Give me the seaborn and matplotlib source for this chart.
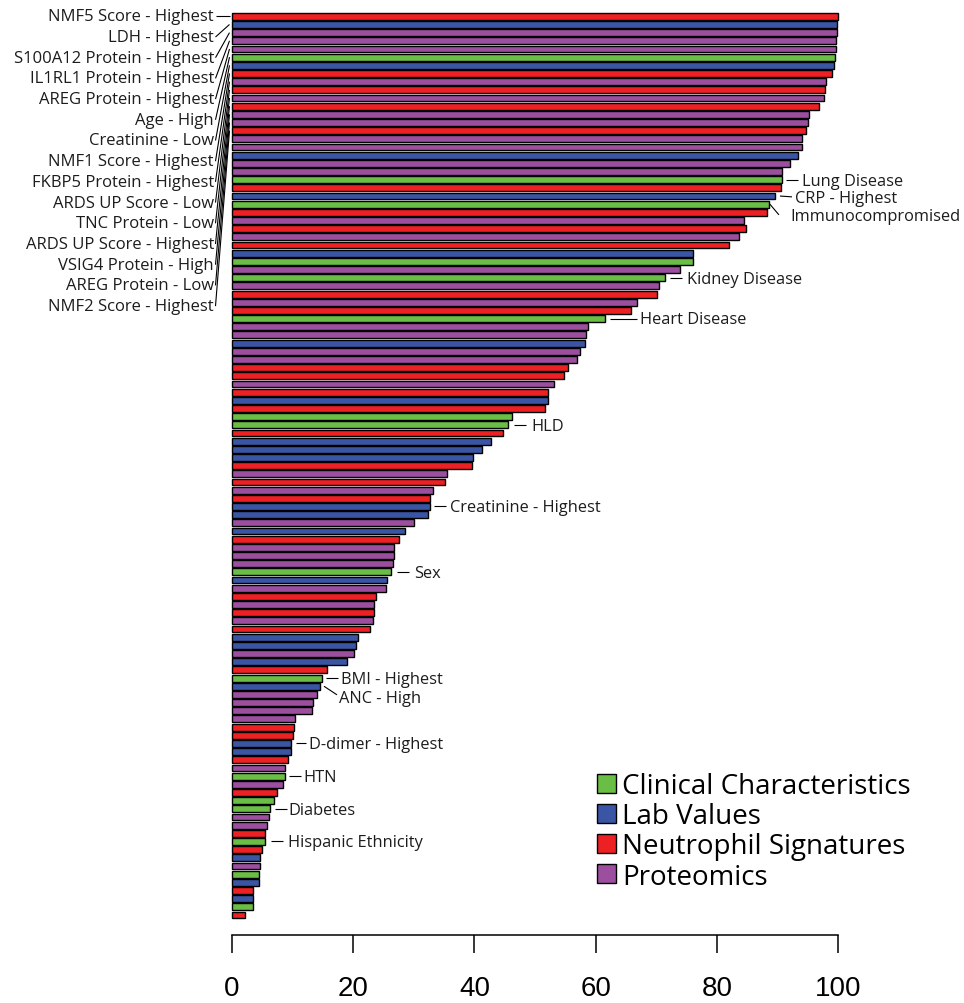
import matplotlib
matplotlib.use("Agg")
import matplotlib.pyplot as plt
from matplotlib.patches import Patch
import pandas as pd
import seaborn as sns

# ---- data: features ranked by importance (top to bottom) ----
group_codes = [
    "N", "L", "P", "P", "P", "C", "L", "N", "P", "N",
    "P", "N", "P", "P", "N", "P", "P", "L", "P", "P",
    "C", "N", "L", "C", "N", "P", "N", "P", "N", "L",
    "C", "P", "C", "P", "N", "P", "N", "C", "P", "P",
    "L", "P", "P", "N", "N", "P", "N", "L", "N", "C",
    "C", "N", "L", "L", "L", "N", "P", "N", "P", "N",
    "L", "L", "P", "L", "N", "P", "P", "P", "C", "L",
    "P", "N", "P", "N", "P", "N", "L", "L", "P", "L",
    "N", "C", "L", "P", "P", "P", "P", "N", "N", "L",
    "L", "N", "P", "C", "P", "N", "C", "C", "P", "P",
    "N", "C", "N", "L", "P", "C", "L", "N", "L", "C",
    "N",
]
scores = [
    100.0, 99.9, 99.8, 99.7, 99.6, 99.5, 99.4, 99.0, 98.0, 97.9,
    97.7, 96.8, 95.2, 95.0, 94.8, 94.1, 94.0, 93.4, 92.0, 90.8,
    90.8, 90.6, 89.6, 88.6, 88.3, 84.5, 84.9, 83.6, 82.0, 76.0,
    76.0, 73.9, 71.5, 70.4, 70.2, 66.8, 65.8, 61.6, 58.8, 58.4,
    58.2, 57.4, 57.0, 55.4, 54.8, 53.2, 52.2, 52.2, 51.6, 46.2,
    45.6, 44.8, 42.8, 41.2, 39.8, 39.6, 35.4, 35.2, 33.2, 32.6,
    32.6, 32.4, 30.0, 28.6, 27.5, 26.8, 26.8, 26.6, 26.2, 25.6,
    25.4, 23.8, 23.4, 23.4, 23.2, 22.8, 20.8, 20.4, 20.2, 19.0,
    15.7, 14.8, 14.6, 14.0, 13.4, 13.2, 10.4, 10.2, 10.0, 9.8,
    9.8, 9.2, 8.8, 8.8, 8.4, 7.4, 7.0, 6.3, 6.1, 5.7,
    5.5, 5.4, 5.0, 4.6, 4.6, 4.4, 4.4, 3.5, 3.5, 3.5,
    2.2,
]

group_names = {
    "C": "Clinical Characteristics",
    "L": "Lab Values",
    "N": "Neutrophil Signatures",
    "P": "Proteomics",
}
group_colors = {
    "Clinical Characteristics": "#6abd45",
    "Lab Values": "#3a55a4",
    "Neutrophil Signatures": "#ed2024",
    "Proteomics": "#9c4f9e",
}

# names of the top-ranked features, listed on the left (ranks 0..14)
left_labels = [
    "NMF5 Score - Highest", "LDH - Highest", "S100A12 Protein - Highest",
    "IL1RL1 Protein - Highest", "AREG Protein - Highest", "Age - High",
    "Creatinine - Low", "NMF1 Score - Highest", "FKBP5 Protein - Highest",
    "ARDS UP Score - Low", "TNC Protein - Low", "ARDS UP Score - Highest",
    "VSIG4 Protein - High", "AREG Protein - Low", "NMF2 Score - Highest",
]

# callouts beside bar ends: (text, rank)
right_labels = [
    ("Lung Disease", 20), ("CRP - Highest", 22), ("Immunocompromised", 23),
    ("Kidney Disease", 32), ("Heart Disease", 37), ("HLD", 50),
    ("Creatinine - Highest", 60), ("Sex", 68), ("BMI - Highest", 81),
    ("ANC - High", 82), ("D-dimer - Highest", 89), ("HTN", 93),
    ("Diabetes", 97), ("Hispanic Ethnicity", 101),
]
# leader geometry in pixels: line start, line end, text start (x from bar end),
# line end dy and text dy in bar rows
callout_style = {
    "Lung Disease": (4, 16, 19.5, 0.0, 0.15),
    "CRP - Highest": (5, 17, 20.5, 0.1, 0.2),
    "Immunocompromised": (1, 10, 21.5, 1.3, 1.5),
    "Kidney Disease": (5, 17, 21.5, 0.0, 0.1),
    "Heart Disease": (5, 32, 35, 0.0, 0.1),
    "HLD": (6, 18, 23, 0.0, 0.1),
    "Creatinine - Highest": (4, 16, 20, 0.0, 0.1),
    "Sex": (6, 18, 23, 0.0, 0.1),
    "BMI - Highest": (4, 16, 19.5, 0.0, 0.1),
    "ANC - High": (3.5, 16.5, 19, 1.05, 1.45),
    "D-dimer - Highest": (4.5, 14.5, 17.5, 0.0, 0.1),
    "HTN": (3.5, 15.5, 18.5, 0.0, 0.1),
    "Diabetes": (5, 17, 18.5, 0.0, 0.1),
    "Hispanic Ethnicity": (6.5, 18, 23.5, 0.0, 0.1),
}

ticks = [0, 20, 40, 60, 80, 100]

df = pd.DataFrame({
    "rank": list(range(len(scores))),
    "score": scores,
    "group": [group_names[g] for g in group_codes],
})

# ---- figure layout ----
W, H = 964, 1004
fig = plt.figure(figsize=(W / 100, H / 100), dpi=100)
ax_left, ax_right = 232 / W, 838 / W
ax_top, ax_bottom = 1 - 12 / H, 1 - 936 / H
ax = fig.add_axes([ax_left, ax_bottom, ax_right - ax_left, ax_top - ax_bottom])

sns.barplot(
    data=df, x="score", y="rank", hue="group", orient="h", dodge=False,
    hue_order=list(group_colors), palette=group_colors, saturation=1,
    width=0.84, edgecolor="black", linewidth=1.0, legend=False, ax=ax,
)
for p in ax.patches:
    p.set_clip_on(False)

row_px = 8.17
ax.set_xlim(0, 100)
ax.set_ylim((936 - 17.3) / row_px, -(17.3 - 12) / row_px)

label_font = "Open Sans"
text_color = "#1c1c1c"

# x axis in base-graphics style: detached line with long ticks
for s in ("top", "right", "left"):
    ax.spines[s].set_visible(False)
ax.spines["bottom"].set_bounds(0, 100)
ax.spines["bottom"].set_linewidth(1.1)
ax.set_xticks(ticks)
ax.set_xticklabels([str(t) for t in ticks], fontsize=20, family="Liberation Sans")
ax.tick_params(axis="x", direction="out", length=13, width=1.1, pad=16, colors="black")
ax.set_yticks([])
ax.set_xlabel("")
ax.set_ylabel("")

px_x = 100 / 606.0  # data units per pixel horizontally

# left-hand name list with leader lines to the top bars
for k, name in enumerate(left_labels):
    ty = k * 20.7 / row_px
    ax.text(-18 * px_x, ty, name, ha="right", va="center", fontsize=12,
            family=label_font, color=text_color, clip_on=False)
    ax.plot([-16.5 * px_x, -2.5 * px_x], [ty, k], color="black", lw=0.8,
            clip_on=False, solid_capstyle="butt")

# callouts at bar ends
for name, r in right_labels:
    x0 = scores[r]
    s0, s1, st, dy1, dyt = callout_style[name]
    ax.plot([x0 + s0 * px_x, x0 + s1 * px_x], [r, r + dy1], color="black",
            lw=0.8, clip_on=False, solid_capstyle="butt")
    ax.text(x0 + st * px_x, r + dyt, name, ha="left", va="center", fontsize=11.8,
            family=label_font, color=text_color, clip_on=False)

# legend
handles = [Patch(facecolor=c, edgecolor="black", linewidth=1.0, label=n)
           for n, c in group_colors.items()]
fig.legend(
    handles=handles, loc="upper left", bbox_to_anchor=(597 / W, 1 - 773 / H),
    frameon=False, prop={"family": label_font, "size": 20},
    handlelength=0.68, handleheight=0.68, handletextpad=0.22,
    labelspacing=0.08, borderpad=0, borderaxespad=0,
)

fig.savefig("out.png", dpi=100, facecolor="white")
